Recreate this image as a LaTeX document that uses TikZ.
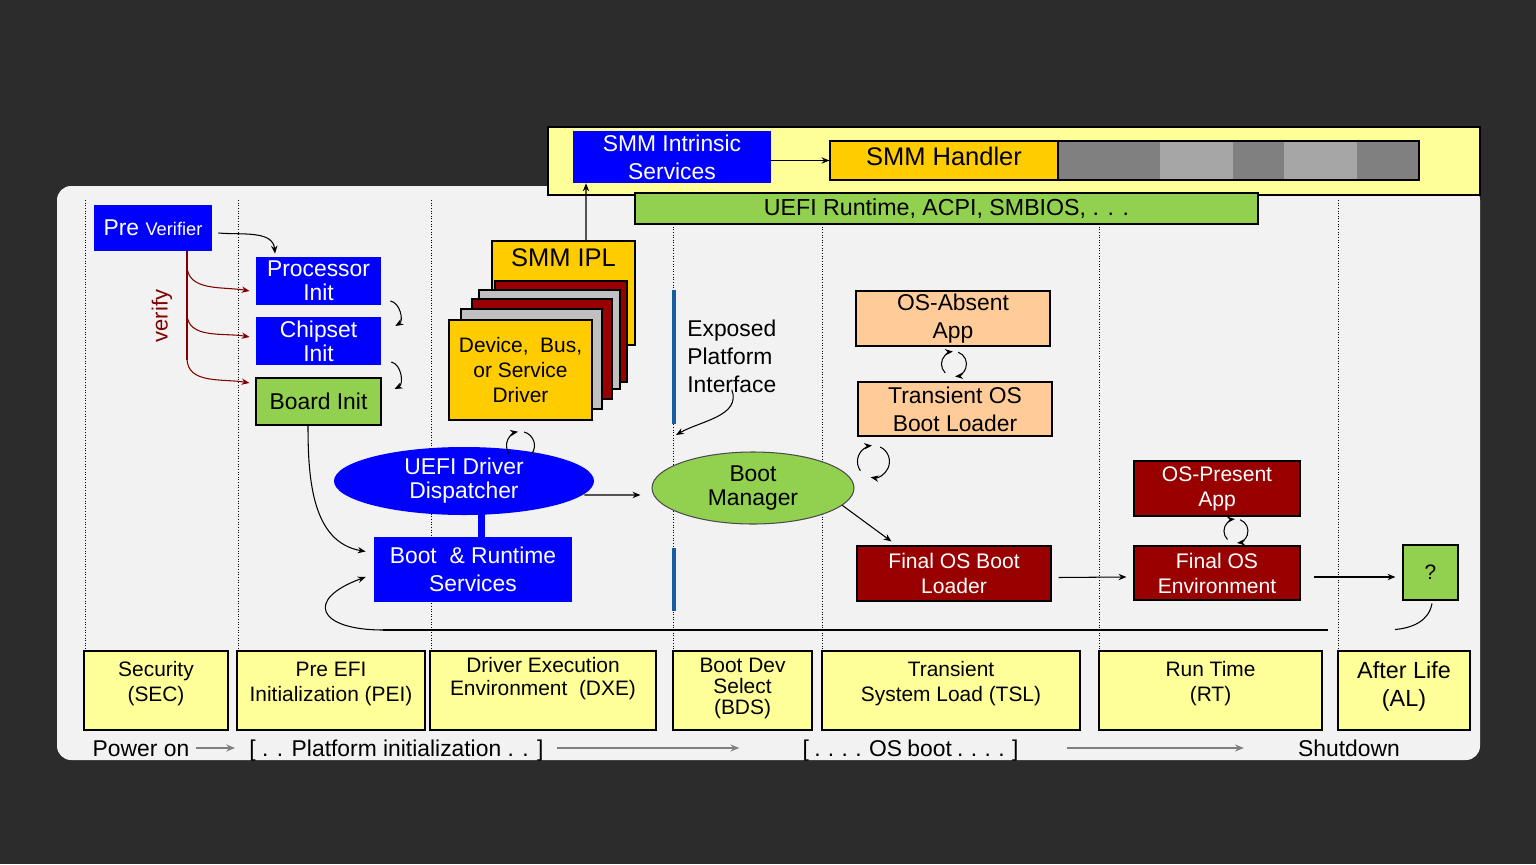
\documentclass[tikz,border=0pt]{standalone}
\usepackage{fontspec}
\setmainfont{Liberation Sans}
\usetikzlibrary{shapes.geometric,arrows.meta,calc}

\definecolor{cblue}{RGB}{0,0,255}
\definecolor{cgreen}{RGB}{146,208,80}
\definecolor{cyellow}{RGB}{255,255,153}
\definecolor{corange}{RGB}{255,204,0}
\definecolor{cpeach}{RGB}{255,204,153}
\definecolor{cred}{RGB}{153,0,0}
\definecolor{cgrey}{RGB}{192,192,192}
\definecolor{cmaroon}{RGB}{128,0,0}
\definecolor{cbar}{RGB}{23,94,158}
\definecolor{cpanel}{RGB}{242,242,242}
\definecolor{cscene}{RGB}{44,44,44}
\definecolor{cdark}{RGB}{128,128,128}
\definecolor{clight}{RGB}{166,166,166}

\tikzset{
  every node/.append style={inner sep=0pt, align=center},
  fbox/.style={rectangle, draw=black, line width=0.6pt},
  bluebox/.style={rectangle, fill=cblue, text=white},
  greenbox/.style={fbox, fill=cgreen},
  redbox/.style={fbox, fill=cred, text=white, font=\fontsize{12}{14.2}\selectfont},
  peachbox/.style={fbox, fill=cpeach, font=\fontsize{13}{15.9}\selectfont},
  card/.style={fbox},
  phasebox/.style={draw=black, line width=0.6pt, fill=cyellow},
  phasetext/.style={font=\fontsize{11.9}{14.2}\selectfont},
  phasesep/.style={densely dotted, line width=0.5pt},
  arr/.style={-{Stealth[length=4.5pt,width=3.6pt]}, line width=0.6pt},
  verifyarr/.style={arr, cmaroon},
  timeline/.style={-{Stealth[length=5pt,width=4pt]}, cdark, line width=1.3pt},
  fA/.style={font=\fontsize{13}{13.6}\selectfont},
  fB/.style={font=\fontsize{13}{15.9}\selectfont},
  fbottom/.style={font=\fontsize{13}{15}\selectfont, text height=9.3pt, text depth=0pt},
}

\begin{document}
\begin{tikzpicture}[scale=0.2]
\useasboundingbox (0,0) rectangle (153.6,-86.4);
\fill [cscene] (0,0) rectangle (153.6,-86.4);
\fill [cpanel, rounded corners=8pt] (5.7,-18.6) rectangle (148.0,-76.0);

% SMM band
\draw [black, fill=cyellow, line width=0.6pt] (54.8,-12.7) rectangle (148.0,-19.5);
\node [bluebox, fB, minimum width=3.96cm, minimum height=1.04cm] (smmi) at (67.2,-15.7) {SMM Intrinsic\\Services};
\fill [corange] (83.0,-14.1) rectangle (105.8,-18.0);
\fill [cdark] (105.8,-14.1) rectangle (116.0,-18.0);
\fill [clight] (116.0,-14.1) rectangle (123.3,-18.0);
\fill [cdark] (123.3,-14.1) rectangle (128.4,-18.0);
\fill [clight] (128.4,-14.1) rectangle (135.7,-18.0);
\fill [cdark] (135.7,-14.1) rectangle (141.9,-18.0);
\draw [black, line width=0.6pt] (105.8,-14.1) -- (105.8,-18.0);
\node [fbox, minimum width=11.78cm, minimum height=0.78cm] (handler) at (112.45,-16.05) {};
\node [font=\fontsize{14.5}{16}\selectfont] (hname) at (94.4,-15.6) {SMM Handler};
\node [greenbox, font=\fontsize{13.2}{15}\selectfont, minimum width=12.46cm, minimum height=0.62cm] (rt) at (94.65,-20.85) {UEFI Runtime, ACPI, SMBIOS, . . .};

% phase separators
\draw [phasesep] (8.5,-20.0) -- (8.5,-65.1);
\draw [phasesep] (23.8,-20.0) -- (23.8,-65.1);
\draw [phasesep] (43.1,-20.0) -- (43.1,-65.1);
\draw [phasesep] (67.3,-22.4) -- (67.3,-65.1);
\draw [phasesep] (82.2,-22.4) -- (82.2,-65.1);
\draw [phasesep] (109.9,-22.4) -- (109.9,-65.1);
\draw [phasesep] (133.8,-20.0) -- (133.8,-65.1);

% SEC and PEI
\node [bluebox, fA, minimum width=2.36cm, minimum height=0.92cm] (pv) at (15.3,-22.8) {Pre {\fontsize{10.4}{12}\selectfont Verifier}};
\node [bluebox, fA, minimum width=2.5cm, minimum height=0.96cm] (proc) at (31.85,-28.1) {Processor\\Init};
\node [bluebox, fA, minimum width=2.5cm, minimum height=0.96cm] (chip) at (31.85,-34.1) {Chipset\\Init};
\node [greenbox, fA, minimum width=2.5cm, minimum height=0.94cm] (board) at (31.85,-40.15) {Board Init};
\node [cmaroon, font=\fontsize{12.5}{14}\selectfont, rotate=90] (verify) at (16.2,-31.6) {verify};

% DXE
\node [fbox, fill=corange, minimum width=2.86cm, minimum height=2.08cm] (ipl) at (56.35,-29.3) {};
\node [font=\fontsize{14.5}{16}\selectfont] (ipltxt) at (56.35,-25.8) {SMM IPL};
\node [card, fill=cred, minimum width=2.64cm, minimum height=2.02cm] (c1) at (56.1,-33.15) {};
\node [card, fill=cgrey, minimum width=2.82cm, minimum height=1.98cm] (c2) at (54.95,-33.95) {};
\node [card, fill=cred, minimum width=2.8cm, minimum height=2.0cm] (c3) at (54.2,-34.9) {};
\node [card, fill=cgrey, minimum width=2.82cm, minimum height=2.0cm] (c4) at (53.15,-35.9) {};
\node [card, fill=corange, font=\fontsize{11.9}{14.2}\selectfont, minimum width=2.86cm, minimum height=2.0cm] (dev) at (52.05,-37.0) {Device,~ Bus,\\or Service\\Driver};
\draw [cblue, line width=4.5pt] (48.15,-55.0) -- (48.15,-50.0);
\node [ellipse, fill=cblue, text=white, fA, minimum width=5.2cm, minimum height=1.36cm] (disp) at (46.4,-48.1) {UEFI Driver\\Dispatcher};
\node [bluebox, fB, minimum width=3.96cm, minimum height=1.3cm] (brs) at (47.3,-56.95) {Boot~ \& Runtime\\Services};

% BDS
\draw [cbar, line width=2.5pt] (67.4,-29.0) -- (67.4,-42.4);
\draw [cbar, line width=2.5pt] (67.4,-54.8) -- (67.4,-61.1);
\node [fB, align=left, anchor=west] (epi) at (68.7,-35.6) {Exposed\\Platform\\Interface};
\coordinate (epitip) at (67.6,-43.5);
\node [ellipse, draw=black!70, line width=0.6pt, fill=cgreen, fA, minimum width=4.04cm, minimum height=1.44cm] (bm) at (75.3,-48.8) {Boot\\Manager};

% TSL, RT, AL
\node [peachbox, minimum width=3.88cm, minimum height=1.1cm] (osa) at (95.3,-31.85) {OS-Absent\\App};
\node [peachbox, minimum width=3.88cm, minimum height=1.08cm] (tos) at (95.5,-40.9) {Transient OS\\Boot Loader};
\node [redbox, minimum width=3.88cm, minimum height=1.1cm] (fbl) at (95.4,-57.35) {Final OS Boot\\Loader};
\node [redbox, minimum width=3.32cm, minimum height=1.1cm] (osp) at (121.7,-48.85) {OS-Present\\App};
\node [redbox, minimum width=3.32cm, minimum height=1.08cm] (fenv) at (121.7,-57.3) {Final OS\\Environment};
\node [greenbox, font=\fontsize{11.9}{14}\selectfont, minimum width=1.1cm, minimum height=1.1cm] (ques) at (143.05,-57.25) {?};

% connectors
\draw [arr] (smmi.east |- handler.west) -- (handler.west);
\draw [arr] ($(ipl.north)+(2.25,0)$) -- ($(smmi.south)+(-8.6,0)$);
\draw [arr] ($(pv.east)+(0.6,-0.5)$) to[out=-5,in=95] ($(proc.north)+(-4.35,0.3)$);
\draw [cmaroon, line width=0.6pt] ($(pv.south)+(3.4,0)$) -- ($(pv.south)+(3.4,-10.9)$);
\draw [verifyarr] ($(pv.south)+(3.4,-1.4)$) to[out=-90,in=170] ($(proc.west)+(-0.6,-1.0)$);
\draw [verifyarr] ($(pv.south)+(3.4,-6.2)$) to[out=-90,in=170] ($(chip.west)+(-0.6,0.4)$);
\draw [verifyarr] ($(pv.south)+(3.4,-10.7)$) to[out=-90,in=170] ($(board.west)+(-0.6,1.85)$);
\draw [arr] ($(proc.east)+(0.9,-2.0)$) to[bend left=70] ($(chip.east)+(1.4,1.5)$);
\draw [arr] ($(chip.east)+(1.0,-2.1)$) to[bend left=70] ($(board.east)+(1.3,1.25)$);
\draw [arr] ($(board.south)+(-1.05,0)$) to[out=-90,in=170] ($(brs.west)+(-0.8,1.8)$);
\coordinate (hl) at (38.3,-63.0);
\coordinate (hr) at (132.8,-63.0);
\draw [black, line width=0.6pt] (hl) -- (hr);
\draw [arr] (hl) to[out=180,in=200,looseness=3] ($(brs.west)+(-0.8,-0.75)$);
\coordinate (dl) at ($(dev.south)+(0,-2.5)$);
\draw [arr] ($(dl)+(215:1.4)$) arc (215:100:1.4);
\draw [black, line width=0.6pt] ($(dl)+(75:1.4)$) arc (75:-35:1.4);
\draw [arr] ($(disp.east)+(-1.0,-1.4)$) -- ($(bm.west)+(-1.1,-0.7)$);
\draw [arr] ($(epi.south)+(0,0.3)$) to[out=-70,in=30] (epitip);
\draw [arr] (bm.-11) -- ($(fbl.north west)+(3.5,0.4)$);
\coordinate (ol) at ($(osa.south)!0.5!(tos.north)$);
\draw [arr] ($(ol)+(225:1.25)$) arc (225:95:1.25);
\draw [arr] ($(ol)+(70:1.25)$) arc (70:-85:1.25);
\coordinate (tl) at ($(tos.south west)+(1.6,-2.5)$);
\draw [arr] ($(tl)+(215:1.6)$) arc (215:95:1.6);
\draw [arr] ($(tl)+(65:1.6)$) arc (65:-100:1.6);
\coordinate (pl) at ($(osp.south)!0.5!(fenv.north)+(1.9,0)$);
\draw [arr] ($(pl)+(225:1.2)$) arc (225:95:1.2);
\draw [arr] ($(pl)+(70:1.2)$) arc (70:-85:1.2);
\draw [arr] ($(fbl.east)+(0.7,-0.4)$) -- ($(fenv.west)+(-0.7,-0.4)$);
\draw [arr] ($(fenv.east)+(1.3,-0.4)$) -- ($(ques.west)+(-0.7,-0.45)$);
\draw [black, line width=0.6pt] ($(ques.south)+(-3.55,-2.9)$) to[out=5,in=-100] ($(ques.south)+(0.15,-0.3)$);

% phases
\draw [phasebox] (8.4,-65.1) rectangle (22.8,-73.0);
\node [phasetext] (sec) at (15.6,-68.35) {Security\\(SEC)};
\draw [phasebox] (23.7,-65.1) rectangle (42.5,-73.0);
\node [phasetext] (pei) at (33.1,-68.35) {Pre EFI\\Initialization (PEI)};
\draw [phasebox] (43.0,-65.1) rectangle (65.6,-73.0);
\node [font=\fontsize{11.9}{13}\selectfont] (dxe) at (54.3,-67.85) {Driver Execution\\Environment~ (DXE)};
\draw [phasebox] (67.3,-65.1) rectangle (81.2,-73.0);
\node [font=\fontsize{11.9}{12.2}\selectfont] (bds) at (74.25,-68.85) {Boot Dev\\Select\\(BDS)};
\draw [phasebox] (82.2,-65.1) rectangle (108.0,-73.0);
\node [phasetext] (tsl) at (95.1,-68.35) {Transient\\System Load (TSL)};
\draw [phasebox] (109.9,-65.1) rectangle (132.2,-73.0);
\node [phasetext] (rtp) at (121.05,-68.35) {Run Time\\(RT)};
\draw [phasebox] (133.8,-65.1) rectangle (147.0,-73.0);
\node [font=\fontsize{13.3}{15.9}\selectfont] (al) at (140.4,-68.6) {After Life\\(AL)};

% time line
\node [fbottom] (pon) at (14.1,-74.8) {Power on};
\node [fbottom] (plat) at (39.65,-74.8) {[ . . Platform initialization . . ]};
\node [fbottom] (osb) at (91.05,-74.8) {\spaceskip=0.23em\relax [ . . . . OS boot . . . . ]};
\node [fbottom] (shut) at (134.9,-74.8) {Shutdown};
\draw [timeline] ($(pon.east)+(0.6,0)$) -- ($(plat.west)+(-1.4,0)$);
\draw [timeline] ($(plat.east)+(1.3,0)$) -- ($(osb.west)+(-6.3,0)$);
\draw [timeline] ($(osb.east)+(4.8,0)$) -- ($(shut.west)+(-5.4,0)$);
\end{tikzpicture}
\end{document}
